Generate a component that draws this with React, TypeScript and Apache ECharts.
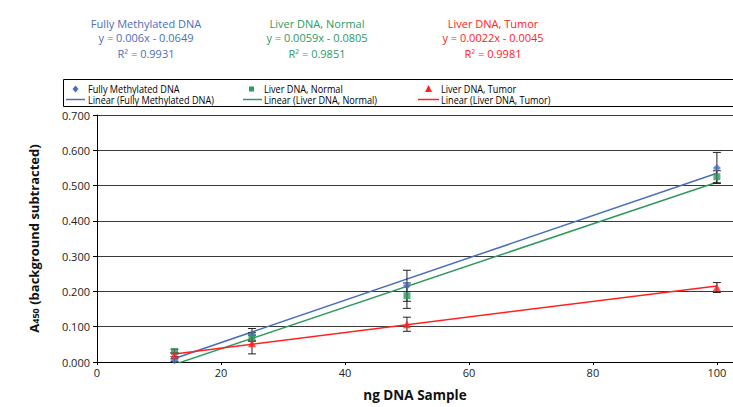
import React, { useEffect, useRef } from "react";
import * as echarts from "echarts";

const xValues = [12.5, 25, 50, 100];
const seriesNames = ["Fully Methylated DNA", "Liver DNA, Normal", "Liver DNA, Tumor"];
const methylatedY = [0.005, 0.077, 0.216, 0.55];
const methylatedErr = [0.004, 0.018, 0.044, 0.044];
const normalY = [0.03, 0.068, 0.188, 0.525];
const normalErr = [0.006, 0.008, 0.036, 0.017];
const tumorY = [0.021, 0.053, 0.107, 0.211];
const tumorErr = [0.006, 0.03, 0.02, 0.014];
const slopes = [0.006, 0.0059, 0.0022];
const intercepts = [-0.0649, -0.0805, -0.0045];
const equations = ["y = 0.006x - 0.0649", "y = 0.0059x - 0.0805", "y = 0.0022x - 0.0045"];
const r2 = ["R² = 0.9931", "R² = 0.9851", "R² = 0.9981"];
const colors = ["#4a6ebd", "#2f9960", "#ff2222"];
const symbols = ["diamond", "rect", "triangle"];
const symbolSizes = [8, 7, 8];

const FONT = "'Open Sans', 'Noto Sans', sans-serif";

export default function App() {
  const ref = useRef<HTMLDivElement>(null);
  useEffect(() => {
    if (!ref.current) return;
    const chart = echarts.init(ref.current, undefined, { renderer: "svg" });
    const ys = [methylatedY, normalY, tumorY];
    const errs = [methylatedErr, normalErr, tumorErr];
    const series: any[] = [];
    ys.forEach((_, i) => {
      const x0 = xValues[0];
      const x1 = xValues[xValues.length - 1];
      series.push({
        type: "line",
        name: "Linear (" + seriesNames[i] + ")",
        data: [
          [x0, slopes[i] * x0 + intercepts[i]],
          [x1, slopes[i] * x1 + intercepts[i]],
        ],
        showSymbol: false,
        symbol: "none",
        lineStyle: { color: colors[i], width: 1.5 },
        clip: true,
        z: 2,
      });
    });
    ys.forEach((y, i) => {
      series.push({
        type: "custom",
        name: "err" + i,
        data: xValues.map((x, k) => [x, y[k] - errs[i][k], y[k] + errs[i][k]]),
        renderItem: (params: any, api: any) => {
          const x = api.value(0);
          const lo = api.coord([x, api.value(1)]);
          const hi = api.coord([x, api.value(2)]);
          const hw = 4;
          const style = { stroke: "#222", lineWidth: 1 };
          return {
            type: "group",
            children: [
              { type: "line", shape: { x1: lo[0], y1: lo[1], x2: hi[0], y2: hi[1] }, style },
              { type: "line", shape: { x1: lo[0] - hw, y1: lo[1], x2: lo[0] + hw, y2: lo[1] }, style },
              { type: "line", shape: { x1: hi[0] - hw, y1: hi[1], x2: hi[0] + hw, y2: hi[1] }, style },
            ],
          };
        },
        z: 3,
      });
    });
    ys.forEach((y, i) => {
      series.push({
        type: "scatter",
        name: seriesNames[i],
        data: xValues.map((x, k) => [x, y[k]]),
        symbol: symbols[i],
        symbolSize: symbolSizes[i],
        itemStyle: { color: colors[i] },
        z: 4,
      });
    });

    const annCenters = [146, 317, 493];
    const graphic: any[] = [];
    annCenters.forEach((cx, i) => {
      [seriesNames[i], equations[i], r2[i]].forEach((t, j) => {
        graphic.push({
          type: "text",
          x: cx,
          y: [23, 37, 53][j],
          style: {
            text: t,
            fill: colors[i],
            font: "11px " + FONT,
            textAlign: "center",
            textVerticalAlign: "middle",
          },
        });
      });
    });
    graphic.push({
      type: "rect",
      shape: { x: 63.5, y: 79.5, width: 700, height: 27 },
      style: { fill: "#fff", stroke: "#000", lineWidth: 1 },
    });
    const legX = [75.5, 251.5, 428.5];
    const lineX = [[66, 85], [243, 262], [418, 439]];
    const textX = [88, 264, 441];
    legX.forEach((mx, i) => {
      graphic.push({
        type: "text",
        x: textX[i],
        y: 88.5,
        scaleX: 0.87,
        style: { text: seriesNames[i], fill: "#000", font: "10.5px " + FONT, textVerticalAlign: "middle" },
      });
      graphic.push({
        type: "text",
        x: textX[i],
        y: 99.5,
        scaleX: 0.87,
        style: {
          text: "Linear (" + seriesNames[i] + ")",
          fill: "#000",
          font: "10.5px " + FONT,
          textVerticalAlign: "middle",
        },
      });
      graphic.push({
        type: "line",
        shape: { x1: lineX[i][0], y1: 99.5, x2: lineX[i][1], y2: 99.5 },
        style: { stroke: colors[i], lineWidth: 1.5 },
      });
      if (i === 0) {
        graphic.push({
          type: "polygon",
          shape: { points: [[mx, 85.5], [mx + 3, 89], [mx, 92.5], [mx - 3, 89]] },
          style: { fill: colors[i] },
        });
      } else if (i === 1) {
        graphic.push({ type: "rect", shape: { x: mx - 2.5, y: 86.5, width: 5, height: 5 }, style: { fill: colors[i] } });
      } else {
        graphic.push({
          type: "polygon",
          shape: { points: [[mx, 85], [mx + 3.5, 92], [mx - 3.5, 92]] },
          style: { fill: colors[i] },
        });
      }
    });

    chart.setOption({
      animation: false,
      grid: { left: 97, right: 0, top: 115, bottom: 41, containLabel: false },
      xAxis: {
        type: "value",
        min: 0,
        max: 102.6,
        interval: 20,
        name: "ng DNA Sample",
        nameLocation: "middle",
        nameGap: 26,
        nameTextStyle: { fontFamily: FONT, fontSize: 13.5, fontWeight: "bold", color: "#111" },
        axisLine: { lineStyle: { color: "#000", width: 1 } },
        axisTick: { show: true, length: 3, lineStyle: { color: "#000" } },
        axisLabel: {
          fontFamily: FONT,
          fontSize: 11,
          color: "#222",
          margin: 5,
          showMaxLabel: false,
          formatter: (v: number) => (Math.abs(v % 20) < 1e-6 ? String(v) : ""),
        },
        splitLine: { show: false },
      },
      yAxis: {
        type: "value",
        min: 0,
        max: 0.7,
        interval: 0.1,
        name: "{a|A}{s|450}{a| (background subtracted)}",
        nameLocation: "middle",
        nameGap: 57,
        nameRotate: 90,
        nameTextStyle: {
          rich: {
            a: { fontFamily: FONT, fontSize: 13, fontWeight: "bold", color: "#111" },
            s: { fontFamily: FONT, fontSize: 9, fontWeight: "bold", color: "#111", verticalAlign: "bottom", padding: [4, 0, 0, 0] },
          },
        },
        axisLine: { show: true, lineStyle: { color: "#000", width: 1 } },
        axisTick: { show: true, length: 4, lineStyle: { color: "#000" } },
        axisLabel: {
          fontFamily: FONT,
          fontSize: 11,
          color: "#222",
          margin: 7,
          formatter: (v: number) => v.toFixed(3),
        },
        splitLine: { show: true, lineStyle: { color: "#3a3a3a", width: 1 } },
      },
      series,
      graphic,
    });
    return () => chart.dispose();
  }, []);
  return (
    <div
      ref={ref}
      style={{ position: "absolute", left: 0, top: 0, width: 733, height: 407, background: "#fff" }}
    />
  );
}
